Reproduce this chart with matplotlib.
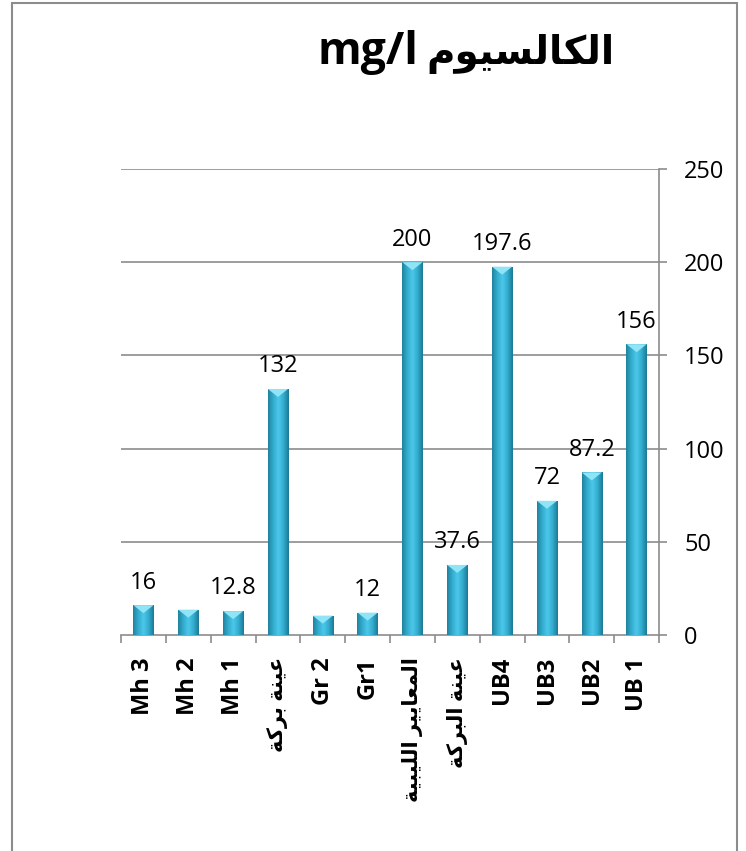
import numpy as np
import matplotlib
matplotlib.use("Agg")
import matplotlib.pyplot as plt
from matplotlib.patches import Polygon, Rectangle
from matplotlib.colors import LinearSegmentedColormap

# Arabic strings are written pre-shaped (presentation forms, visual order)
# because matplotlib does no bidi / contextual shaping.
AR_CALCIUM = "\uFEE1\uFEEE\uFEF4\uFEB4\uFEDF\uFE8E\uFEDC\uFEDF\uFE8D"          # الكالسيوم
AR_POND_SAMPLE = "\uFE94\uFEDB\uFEAE\uFE91 \uFE94\uFEE8\uFEF4\uFECB"             # عينة بركة
AR_LIBYAN_STD = ("\uFE94\uFEF4\uFE92\uFEF4\uFEE0\uFEDF\uFE8D "
                 "\uFEAE\uFEF4\uFEF3\uFE8E\uFECC\uFEE4\uFEDF\uFE8D")              # المعايير الليبية
AR_THE_POND_SAMPLE = "\uFE94\uFEDB\uFEAE\uFE92\uFEDF\uFE8D \uFE94\uFEE8\uFEF4\uFECB"  # عينة البركة

title_unit = "mg/l"
title_name = AR_CALCIUM

categories = ["Mh 3", "Mh 2", "Mh 1", AR_POND_SAMPLE, "Gr 2", "Gr1",
              AR_LIBYAN_STD, AR_THE_POND_SAMPLE, "UB4", "UB3", "UB2", "UB 1"]
values = [16, 13.6, 12.8, 132, 10.4, 12, 200, 37.6, 197.6, 72, 87.2, 156]
show_label = [True, False, True, True, False, True, True, True, True, True, True, True]
yticks = [0, 50, 100, 150, 200, 250]

FONTS = ["Open Sans", "DejaVu Sans"]
plt.rcParams["font.family"] = FONTS

W, H = 746, 851
fig = plt.figure(figsize=(W / 100, H / 100), dpi=100)

# chart frame
fig.patches.append(Rectangle((12 / W, -0.01), (737 - 12) / W, 1.01 - 3 / H,
                             transform=fig.transFigure, fill=False,
                             edgecolor="#8c8c8c", linewidth=1.5))

ax = fig.add_axes([121 / W, 1 - 635 / H, (659 - 121) / W, (635 - 169) / H])
ax.set_xlim(0, len(categories))
ax.set_ylim(0, 250)

grid_c = "#8c8c8c"
for s in ["left", "top"]:
    ax.spines[s].set_visible(False)
for s in ["right", "bottom"]:
    ax.spines[s].set_color(grid_c)
    ax.spines[s].set_linewidth(1.2)

ax.set_yticks(yticks)
ax.yaxis.tick_right()
ax.tick_params(axis="y", length=6, width=1.2, color=grid_c, pad=12,
               labelsize=17, labelcolor="black")
for y in yticks[1:]:
    ax.axhline(y, color=grid_c, linewidth=1.2, zorder=0)

x = np.arange(len(categories)) + 0.5
ax.set_xticks(x)
ax.set_xticklabels(categories, rotation=90, fontsize=17, fontweight="bold",
                   va="top", ha="center")
for t in ax.get_xticklabels():
    if not t.get_text().isascii():
        t.set_fontsize(15)
ax.set_xticks(np.arange(len(categories) + 1), minor=True)
ax.tick_params(axis="x", which="major", length=0, pad=16)
ax.tick_params(axis="x", which="minor", length=6, width=1.2, color=grid_c)

# bars with a cylinder-like horizontal shading and a light pyramid cap
shade = LinearSegmentedColormap.from_list(
    "shade", ["#20839f", "#33acce", "#4cc8ea", "#33acce", "#1c7a96"])
grad = np.linspace(0, 1, 64).reshape(1, -1)
bar_w = 0.45
bars = ax.bar(x, values, width=bar_w, color="#33acce", edgecolor="none", zorder=2)
cap = 8 / ((635 - 169) / 250)
for b, v in zip(bars, values):
    x0 = b.get_x()
    im = ax.imshow(grad, cmap=shade, aspect="auto", zorder=3,
                   extent=(x0, x0 + bar_w, 0, v), interpolation="bilinear")
    im.set_clip_path(b)
    tri = Polygon([(x0, v), (x0 + bar_w, v), (x0 + bar_w / 2, v - min(cap, v * 0.6))],
                  closed=True, facecolor="#8fe4f6", edgecolor="none", zorder=4)
    ax.add_patch(tri)
ax.set_xlim(0, len(categories))
ax.set_ylim(0, 250)

for xi, v, lab in zip(x, values, show_label):
    if lab:
        ax.annotate(f"{v:g}", (xi, v), xytext=(0, 12), textcoords="offset points",
                    ha="center", va="baseline", fontsize=17)

# title: latin unit on the left, Arabic name on the right
fig.text(418 / W, 1 - 64 / H, title_unit, ha="right", va="baseline",
         fontsize=32, fontweight="bold", family="Open Sans")
fig.text(426 / W, 1 - 64 / H, title_name, ha="left", va="baseline",
         fontsize=28, fontweight="bold", family="DejaVu Sans")

fig.savefig("out.png", dpi=100)
